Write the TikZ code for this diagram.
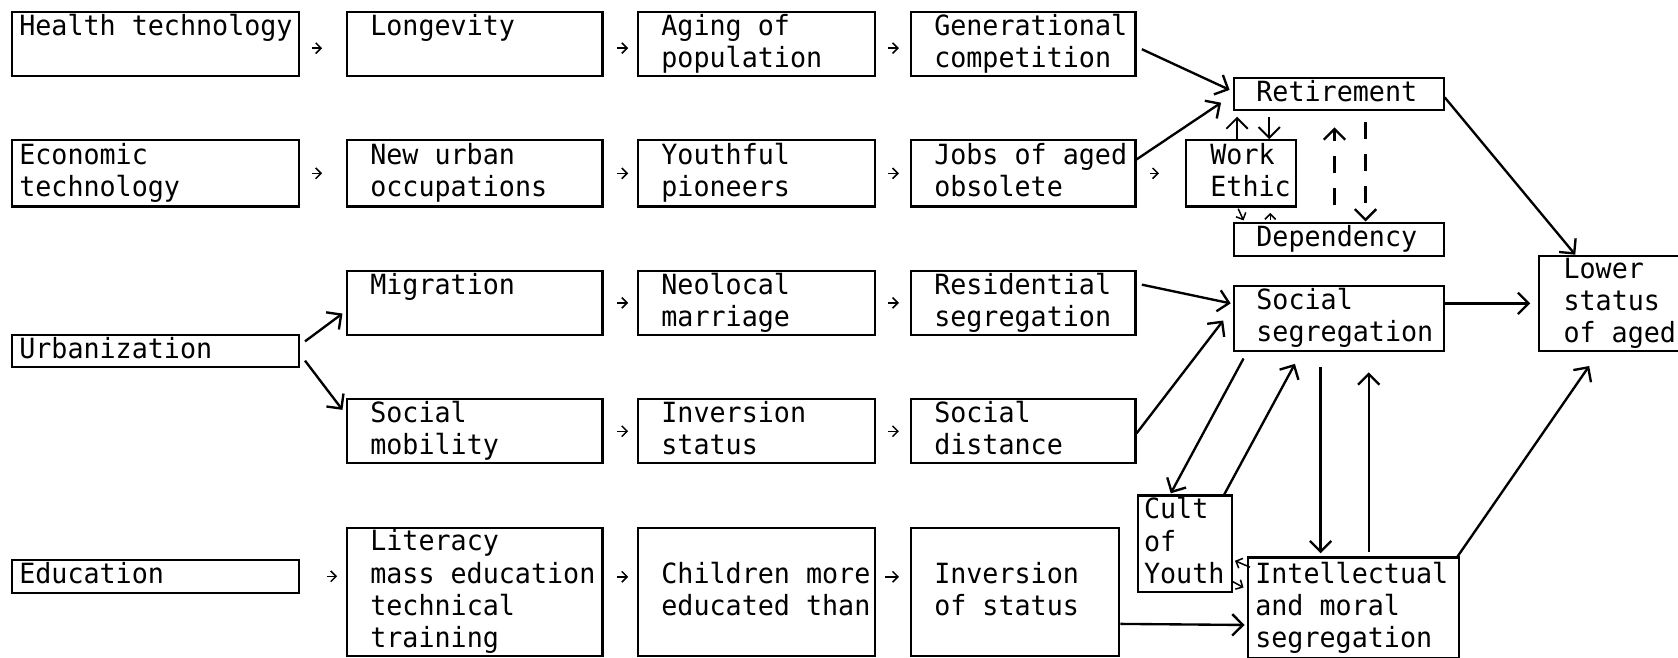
\documentclass[tikz,border=0pt]{standalone}
\usepackage{fontspec}
\newfontfamily\typewriter[FakeStretch=0.96]{DejaVu Sans Mono}
\usetikzlibrary{calc}
\usetikzlibrary{arrows.meta}

\newcommand{\cellstrut}{\rule[-3pt]{0pt}{12pt}}

\tikzset{
	textindent/.store in=\cellindent, textindent=11pt,
	cell/.style={draw, line width=1pt, anchor=north west, inner sep=0pt,
		align=left, font=\typewriter\fontsize{13}{15}\selectfont,
		execute at begin node={\spaceskip=7.5pt\relax\leftskip=\cellindent\cellstrut},
		execute at end node={\cellstrut}},
	link/.style={line width=1.1pt, -{Straight Barb[length=5pt,width=10pt]}},
	tick/.style={line width=0.7pt, -{Straight Barb[length=2.5pt,width=5pt]}},
	dashlink/.style={link, dash pattern=on 8pt off 7pt},
}

\begin{document}
\begin{tikzpicture}[x=0.5pt,y=-0.5pt]
	\useasboundingbox (0,0) rectangle (1568,614);

	% first column
	\node[cell, textindent=3.5pt, text width=134pt, minimum height=30pt] (health) at (10,10) {Health technology\\\mbox{}};
	\node[cell, textindent=3.5pt, text width=134pt, minimum height=31pt] (econ) at (10,130) {Economic\\technology};
	\node[cell, textindent=3.5pt, text width=134pt, minimum height=15pt] (urban) at (10,312) {Urbanization};
	\node[cell, textindent=3.5pt, text width=134pt, minimum height=15.5pt] (edu) at (10,522) {Education};

	% second column
	\node[cell, text width=119.5pt, minimum height=30pt] (longev) at (323,10) {Longevity\\\mbox{}};
	\node[cell, text width=119.5pt, minimum height=31pt] (occup) at (323,130) {New urban\\occupations};
	\node[cell, text width=119.5pt, minimum height=30pt] (migr) at (323,252) {Migration\\\mbox{}};
	\node[cell, text width=119.5pt, minimum height=30pt] (mobil) at (323,372) {Social\\mobility};
	\node[cell, text width=119.5pt, minimum height=60pt] (liter) at (323,492) {Literacy\\mass education\\technical\\training};

	% third column
	\node[cell, text width=111pt, minimum height=30pt] (aging) at (595,10) {Aging of\\population};
	\node[cell, text width=111pt, minimum height=31pt] (pioneer) at (595,130) {Youthful\\pioneers};
	\node[cell, text width=111pt, minimum height=30pt] (neoloc) at (595,252) {Neolocal\\marriage};
	\node[cell, text width=111pt, minimum height=30pt] (invstat) at (595,372) {Inversion\\status};
	\node[cell, text width=111pt, minimum height=60pt] (child) at (595,492) {Children more\\educated than};

	% fourth column
	\node[cell, text width=105pt, minimum height=30pt] (gener) at (850,10) {Generational\\competition};
	\node[cell, text width=105pt, minimum height=31pt] (jobs) at (850,130) {Jobs of aged\\obsolete};
	\node[cell, text width=105pt, minimum height=30pt] (resid) at (850,252) {Residential\\segregation};
	\node[cell, text width=105pt, minimum height=30pt] (dist) at (850,372) {Social\\distance};
	\node[cell, text width=97.5pt, minimum height=60pt] (invof) at (850,492) {Inversion\\of status};

	% right part
	\node[cell, textindent=11.5pt, text width=51.5pt, minimum height=31pt] (ethic) at (1107,130) {Work\\Ethic};
	\node[cell, textindent=10.5pt, text width=98pt, minimum height=15pt] (retire) at (1152,72) {Retirement};
	\node[cell, textindent=10.5pt, text width=98pt, minimum height=15.5pt] (depend) at (1152,207) {Dependency};
	\node[cell, textindent=10.5pt, text width=98pt, minimum height=30.5pt] (socseg) at (1152,266) {Social\\segregation};
	\node[cell, textindent=3pt, text width=44pt, minimum height=45pt] (cult) at (1062,462) {Cult\\of\\Youth};
	\node[cell, textindent=3.5pt, text width=98.5pt, minimum height=47pt] (intel) at (1165,520) {Intellectual\\and moral\\segregation};
	\node[cell, textindent=11.5pt, text width=75pt, minimum height=44.5pt] (lower) at (1437,238) {Lower\\status\\of aged};

	% typed arrows along the rows
	\draw[tick, shorten <=6pt, shorten >=11pt] ([yshift=-2pt]health.east) -- ([yshift=-2pt]longev.west);
	\draw[tick, shorten <=6.5pt, shorten >=4pt] ([yshift=-2pt]longev.east) -- ([yshift=-2pt]aging.west);
	\draw[tick, shorten <=5.5pt, shorten >=5pt] ([yshift=-2pt]aging.east) -- ([yshift=-2pt]gener.west);
	\draw[tick, shorten <=6pt, shorten >=11pt] (econ.east) -- (occup.west);
	\draw[tick, shorten <=6.5pt, shorten >=4pt] (occup.east) -- (pioneer.west);
	\draw[tick, shorten <=5.5pt, shorten >=5pt] (pioneer.east) -- (jobs.west);
	\draw[tick, shorten <=6.5pt, shorten >=12pt] (jobs.east) -- (ethic.west);
	\draw[tick, shorten <=6.5pt, shorten >=4pt] (migr.east) -- (neoloc.west);
	\draw[tick, shorten <=5.5pt, shorten >=5pt] (neoloc.east) -- (resid.west);
	\draw[tick, shorten <=6.5pt, shorten >=4pt] (mobil.east) -- (invstat.west);
	\draw[tick, shorten <=5.5pt, shorten >=5pt] (invstat.east) -- (dist.west);
	\draw[tick, shorten <=13pt, shorten >=4pt] (edu.east) -- (edu.east -| liter.west);
	\draw[tick, shorten <=6.5pt, shorten >=4pt] ($(liter.east)+(0,-14)$) -- ($(child.west)+(0,-14)$);
	\draw[tick, shorten <=4pt, shorten >=5pt] ($(child.east)+(0,-14)$) -- ($(invof.west)+(0,-14)$);

	% urbanization branches
	\draw[link] ($(urban.east)+(5,-9)$) -- ($(migr.west)+(-3,10)$);
	\draw[link] ($(urban.east)+(5,9)$) -- ($(mobil.west)+(-3,-20)$);

	% into retirement and social segregation
	\draw[link] ($(gener.east)+(5,5)$) -- ($(retire.west)+(-3,-4)$);
	\draw[link] ($(jobs.east)+(0,-13)$) -- ($(retire.west)+(-11,8)$);
	\draw[link] ($(resid.east)+(5,-17)$) -- ($(socseg.west)+(-2,-14)$);
	\draw[link] ($(dist.east)+(0,2)$) -- ($(socseg.west)+(-9,2)$);
	\draw[link] ($(invof.east)+(0,30)$) -- ($(intel.west)+(-2,16)$);

	% work ethic, retirement, dependency
	\draw[link, line width=0.9pt] ($(retire.south west)+(4,26)$) -- ($(retire.south west)+(4,5)$);
	\draw[link, line width=0.9pt] ($(retire.south west)+(34,5)$) -- ($(retire.south west)+(34,26)$);
	\draw[tick] ($(ethic.south west)+(50,1)$) -- ($(depend.north west)+(10,-1)$);
	\draw[tick] ($(depend.north west)+(35,-1)$) -- ($(ethic.south west)+(80,5)$);
	\draw[dashlink] ($(depend.north west)+(95,-15)$) -- ($(retire.south west)+(95,15)$);
	\draw[dashlink] ($(retire.south west)+(124,10)$) -- ($(depend.north west)+(124,0)$);

	% around social and intellectual segregation
	\draw[link] ($(socseg.south west)+(10,6)$) -- ($(cult.north)+(-13,-1)$);
	\draw[link] ($(cult.north east)+(-8,0)$) -- ($(socseg.south west)+(58,11)$);
	\draw[link] ($(socseg.south west)+(82,14)$) -- ($(intel.north west)+(69,-3)$);
	\draw[link] ($(intel.north west)+(114,-4)$) -- ($(socseg.south west)+(127,19)$);
	\draw[tick] ($(intel.north west)+(3,10)$) -- ($(cult.east)+(2,16)$);
	\draw[tick] ($(cult.east)+(-1,35)$) -- ($(intel.west)+(-3,-19)$);

	% to the lower status
	\draw[link] ($(retire.east)+(0,3)$) -- ($(lower.north west)+(35,0)$);
	\draw[link] (socseg.east |- lower.west) -- ($(lower.west)+(-7,0)$);
	\draw[link] ($(intel.north east)+(-2,0)$) -- ($(lower.south west)+(48,13)$);
\end{tikzpicture}
\end{document}
